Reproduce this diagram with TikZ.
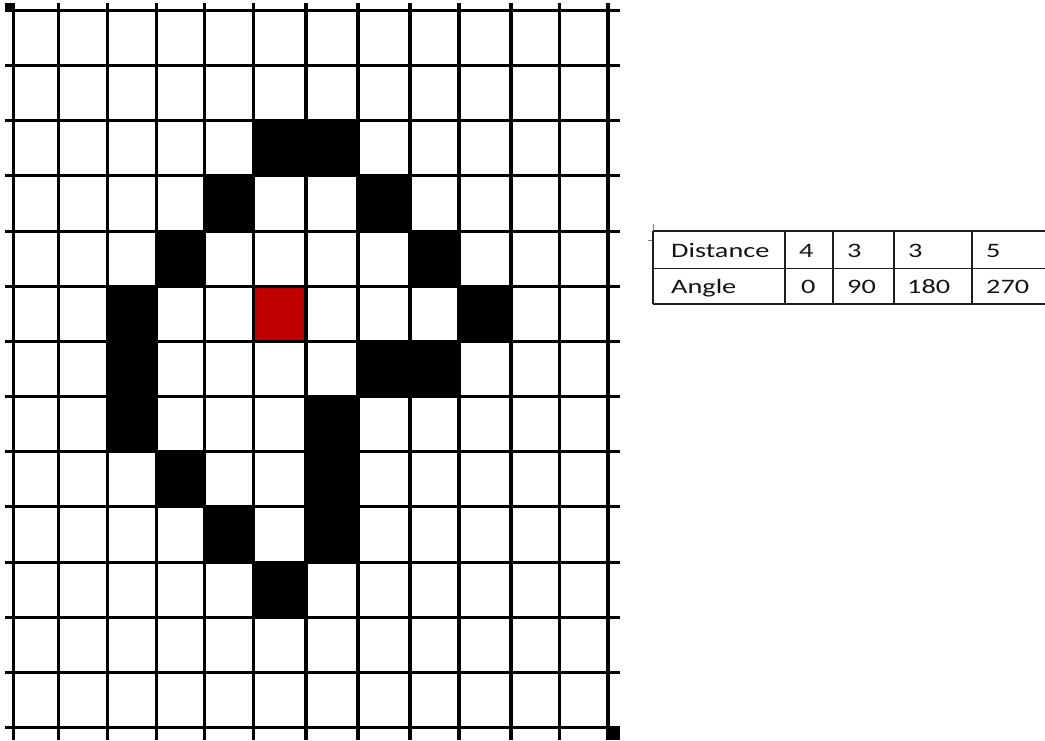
\documentclass[tikz,border=0pt]{standalone}
\usepackage{fontspec}
\setmainfont{Carlito}
\definecolor{cellred}{RGB}{192,0,0}
\definecolor{tabline}{RGB}{30,30,30}
\tikzset{
  gridline/.style={draw=black, line cap=butt},
  blackcell/.style={fill=black},
  redcell/.style={fill=cellred},
  tabrule/.style={draw=tabline, line width=1.7pt},
  tabtick/.style={draw=gray, line width=0.8pt},
  cell/.style={anchor=base west, inner sep=0pt, text=black!92,
    font=\fontsize{20.5}{24}\selectfont},
  handle/.style={fill=black}
}
\newcommand{\wtxt}[1]{\scalebox{1.38}[1]{#1}}
\begin{document}
\begin{tikzpicture}[x=1pt,y=-1pt]
\useasboundingbox (0,0) rectangle (1045,740);
\fill[white] (0,0) rectangle (1045,740);
% filled cells
\fill[blackcell] (253.5,120.8) rectangle (358,175.95);
\fill[blackcell] (204.5,175.95) rectangle (253.5,231.1);
\fill[blackcell] (358,175.95) rectangle (410,231.1);
\fill[blackcell] (156.5,231.1) rectangle (204.5,286.25);
\fill[blackcell] (410,231.1) rectangle (459,286.25);
\fill[blackcell] (107.5,286.25) rectangle (156.5,451.7);
\fill[redcell] (253.5,286.25) rectangle (305.5,341.4);
\fill[blackcell] (459,286.25) rectangle (511,341.4);
\fill[blackcell] (358,341.4) rectangle (459,396.55);
\fill[blackcell] (305.5,396.55) rectangle (358,562);
\fill[blackcell] (156.5,451.7) rectangle (204.5,506.85);
\fill[blackcell] (204.5,506.85) rectangle (253.5,562);
\fill[blackcell] (253.5,562) rectangle (305.5,617.15);
% grid lines
\foreach \i in {0,...,13} {
  \draw[gridline, line width=3pt] (5,{10.5+55.15*\i}) -- (620,{10.5+55.15*\i});
}
\foreach \x/\w in {13.5/3,58.5/3,107.5/3,156.5/3,204.5/3,253.5/3,305.5/4,358/4,410/4,459/4,511/4,559.5/3,608/4} {
  \draw[gridline, line width=\w pt] (\x,3) -- (\x,740);
}
% selection handles
\fill[handle] (5,3) rectangle (15,12);
\fill[handle] (607,727) rectangle (620,740);
% table
\draw[tabtick] (653,224) -- (653,231);
\draw[tabtick] (648,240) -- (653,240);
\draw[tabrule] (653,231) -- (1045,231);
\draw[tabrule] (653,268.5) -- (1045,268.5);
\draw[tabrule] (653,304) -- (1045,304);
\foreach \x in {653,785,833,894,972} {
  \draw[tabrule] (\x,231) -- (\x,304);
}
\node[cell] (dist) at (671,257) {\wtxt{Distance}};
\node[cell] (d1) at (799,257) {\wtxt{4}};
\node[cell] (d2) at (847,257) {\wtxt{3}};
\node[cell] (d3) at (908,257) {\wtxt{3}};
\node[cell] (d4) at (986,257) {\wtxt{5}};
\node[cell] (angle) at (671,293) {\wtxt{Angle}};
\node[cell] (a1) at (801,293) {\wtxt{0}};
\node[cell] (a2) at (847,293) {\wtxt{90}};
\node[cell] (a3) at (907,293) {\wtxt{180}};
\node[cell] (a4) at (986,293) {\wtxt{270}};
\end{tikzpicture}
\end{document}
